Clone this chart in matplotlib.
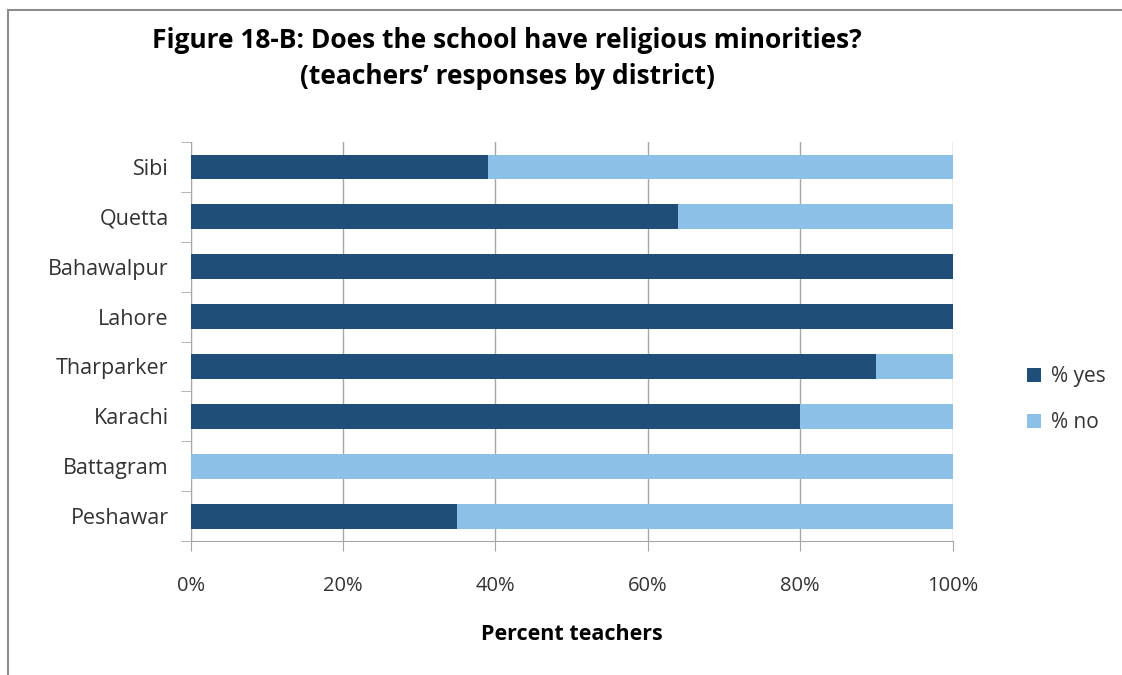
import matplotlib.pyplot as plt
from matplotlib.patches import Rectangle
from matplotlib.ticker import PercentFormatter, FixedLocator

plt.rcParams['font.family'] = ['Open Sans', 'DejaVu Sans']

districts = ['Peshawar', 'Battagram', 'Karachi', 'Tharparker', 'Lahore',
             'Bahawalpur', 'Quetta', 'Sibi']
pct_yes = [35, 0, 80, 90, 100, 100, 64, 39]
pct_no = [65, 100, 20, 10, 0, 0, 36, 61]

dark = '#1F4E79'
light = '#8DC0E6'
grid_c = '#A6A6A6'
text_c = '#333333'

fig = plt.figure(figsize=(11.22, 6.75), dpi=100)
ax = fig.add_axes([0.170, 0.1985, 0.679, 0.591])

pos = range(len(districts))
ax.barh(pos, pct_yes, height=0.5, color=dark, label='% yes', zorder=3)
ax.barh(pos, pct_no, left=pct_yes, height=0.5, color=light, label='% no', zorder=3)

ax.set_xlim(0, 100)
ax.set_ylim(-0.5, len(districts) - 0.5)
ax.set_xticks([0, 20, 40, 60, 80, 100])
ax.xaxis.set_major_formatter(PercentFormatter(decimals=0))
ax.set_yticks(list(pos))
ax.set_yticklabels(districts)
ax.yaxis.set_major_locator(FixedLocator(list(pos)))
ax.set_yticks([p - 0.5 for p in pos] + [len(districts) - 0.5], minor=True)
ax.tick_params(axis='y', which='major', length=0, pad=16, labelsize=15.5, labelcolor=text_c)
ax.tick_params(axis='y', which='minor', length=7, color=grid_c, direction='out')
ax.tick_params(axis='x', length=7, color=grid_c, pad=18, labelsize=14.5, labelcolor=text_c)
ax.grid(axis='x', color=grid_c, lw=1, zorder=0)

for s in ['top', 'right']:
    ax.spines[s].set_visible(False)
for s in ['left', 'bottom']:
    ax.spines[s].set_color(grid_c)

ax.set_xlabel('Percent teachers', fontsize=15.5, fontweight='bold', color='#000000', labelpad=20)

leg = ax.legend(loc='center left', bbox_to_anchor=(1.098, 0.355), frameon=False,
                fontsize=15, handlelength=0.65, handleheight=0.65, labelspacing=1.2,
                handletextpad=0.5, borderaxespad=0, borderpad=0)
for t in leg.get_texts():
    t.set_color(text_c)

fig.text(0.452, 0.94, 'Figure 18-B: Does the school have religious minorities?',
         ha='center', va='center', fontsize=19, fontweight='bold')
fig.text(0.452, 0.886, '(teachers\u2019 responses by district)',
         ha='center', va='center', fontsize=19, fontweight='bold')

fig.patches.append(Rectangle((0.007, -0.01), 1.1, 0.995, transform=fig.transFigure,
                             fill=False, edgecolor='#8C8C8C', lw=1.5))

fig.savefig('out.png', dpi=100)
